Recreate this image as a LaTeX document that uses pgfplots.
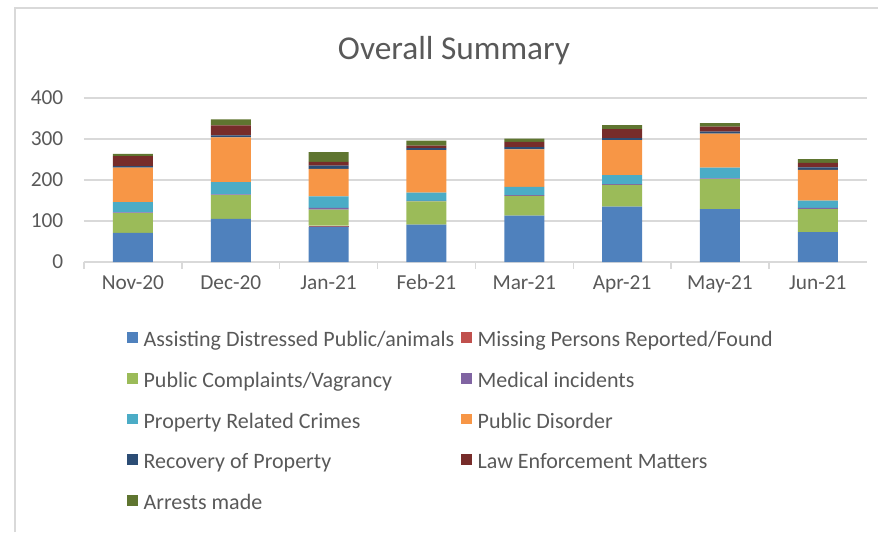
\documentclass[border=0pt]{standalone}
\usepackage{pgfplots}
\pgfplotsset{compat=1.18}
\usepackage{pgfplotstable}
\usepackage{fontspec}
\setmainfont{Carlito}

\definecolor{cA}{HTML}{4F81BD}
\definecolor{cB}{HTML}{C0504D}
\definecolor{cC}{HTML}{9BBB59}
\definecolor{cD}{HTML}{8064A2}
\definecolor{cE}{HTML}{4BACC6}
\definecolor{cF}{HTML}{F79646}
\definecolor{cG}{HTML}{2C4D75}
\definecolor{cH}{HTML}{772C2A}
\definecolor{cI}{HTML}{5F7530}
\definecolor{txt}{HTML}{595959}
\definecolor{grd}{HTML}{D9D9D9}

% one row per month, Nov-20 .. Jun-21
\pgfplotstableread{
x assist missing compl medical property disorder recovery law arrests
0 71 0 48 2 25 84 4 24 6
1 105 0 58 2 30 109 5 24 15
2 86 3 39 4 28 67 8 9 24
3 91 0 57 1 20 104 5 6 12
4 113 0 48 2 20 92 5 13 8
5 135 0 53 2 22 85 5 22 10
6 129 0 73 2 26 83 5 12 9
7 73 0 56 3 18 75 6 11 9
}\summary

\begin{document}
\begin{tikzpicture}
\useasboundingbox (-63pt,-202.5pt) rectangle (595.5pt,196.5pt);
\draw[grd, line width=1.2pt] (-51.75pt,-202.5pt) -- (-51.75pt,190.5pt);
\draw[grd, line width=1.2pt] (-52.35pt,190.5pt) -- (595.5pt,190.5pt);
\node[font=\fontsize{25}{30}\selectfont, text=txt] at (277.5pt,158.5pt) {Overall Summary};
\begin{axis}[
    at={(0,0)}, anchor=south west,
    scale only axis,
    width=587pt, height=123pt,
    ybar stacked,
    bar width=30pt,
    xmin=-0.5, xmax=7.5,
    ymin=0, ymax=400,
    ytick={0,100,...,400},
    xtick={0,...,7},
    xticklabels={Nov-20,Dec-20,Jan-21,Feb-21,Mar-21,Apr-21,May-21,Jun-21},
    minor xtick={-0.5,0.5,...,6.5},
    major tick length=0pt,
    minor tick length=5pt,
    tick align=outside,
    tick style={grd, line width=1pt},
    axis y line*=left,
    axis x line*=bottom,
    y axis line style={draw=none},
    x axis line style={grd, line width=1pt, -},
    ymajorgrids,
    grid style={grd, line width=1pt},
    ticklabel style={font=\fontsize{16}{19}\selectfont, text=txt},
    yticklabel style={xshift=-12pt},
    xticklabel style={yshift=-6pt, text height=11pt, text depth=3pt},
    /pgf/number format/assume math mode=true,
    legend columns=2,
    legend cell align=left,
    legend style={at={(32pt,-51.5pt)}, anchor=north west, draw=none, fill=none,
        font=\fontsize{16.5}{19}\selectfont, text=txt,
        inner sep=0pt, column sep=0pt, row sep=14.5pt,
        nodes={inner sep=0pt, text height=12pt, text depth=4pt},
        /tikz/every odd column/.append style={column sep=4.5pt},
        /tikz/every even column/.append style={column sep=5pt}},
    legend image code/.code={\fill[#1] (0pt,-1pt) rectangle (8pt,7pt);},
]
\addplot[fill=cA, draw=none] table[x=x, y=assist] {\summary};
\addlegendentry{Assisting Distressed Public/animals}
\addplot[fill=cB, draw=none] table[x=x, y=missing] {\summary};
\addlegendentry{Missing Persons Reported/Found}
\addplot[fill=cC, draw=none] table[x=x, y=compl] {\summary};
\addlegendentry{Public Complaints/Vagrancy}
\addplot[fill=cD, draw=none] table[x=x, y=medical] {\summary};
\addlegendentry{Medical incidents}
\addplot[fill=cE, draw=none] table[x=x, y=property] {\summary};
\addlegendentry{Property Related Crimes}
\addplot[fill=cF, draw=none] table[x=x, y=disorder] {\summary};
\addlegendentry{Public Disorder}
\addplot[fill=cG, draw=none] table[x=x, y=recovery] {\summary};
\addlegendentry{Recovery of Property}
\addplot[fill=cH, draw=none] table[x=x, y=law] {\summary};
\addlegendentry{Law Enforcement Matters}
\addplot[fill=cI, draw=none] table[x=x, y=arrests] {\summary};
\addlegendentry{Arrests made}
\end{axis}
\end{tikzpicture}
\end{document}
